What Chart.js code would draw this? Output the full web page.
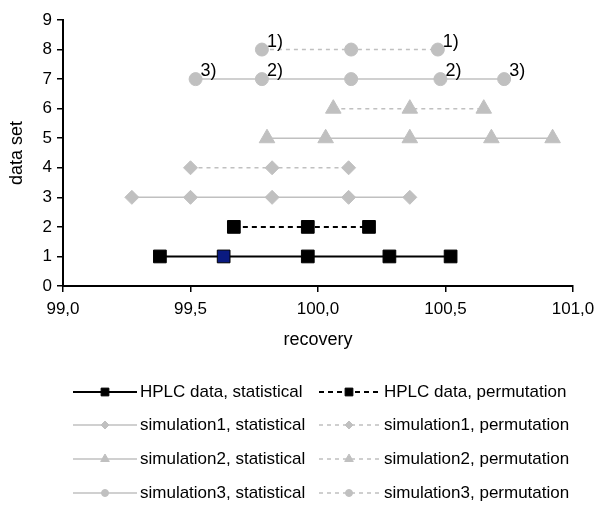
<!DOCTYPE html>
<html>
<head>
<meta charset="utf-8">
<script src="https://cdn.jsdelivr.net/npm/chart.js@4/dist/chart.umd.min.js"></script>
<style>
  body { margin: 0; background: #fff; }
  canvas { display: block; }
</style>
</head>
<body>
<canvas id="chart" width="597" height="506"></canvas>
<script>
// recovery values per data set
const hplcStat = [99.38, 99.63, 99.96, 100.28, 100.52];
const hplcPerm = [99.67, 99.96, 100.20];
const sim1Stat = [99.27, 99.50, 99.82, 100.12, 100.36];
const sim1Perm = [99.50, 99.82, 100.12];
const sim2Stat = [99.80, 100.03, 100.36, 100.68, 100.92];
const sim2Perm = [100.06, 100.36, 100.65];
const sim3Stat = [99.52, 99.78, 100.13, 100.48, 100.73];
const sim3Perm = [99.78, 100.13, 100.47];

// data set number (y) of each series
const rows = [1, 2, 3, 4, 5, 6, 7, 8];
const seriesNames = [
    'HPLC data, statistical', 'HPLC data, permutation',
    'simulation1, statistical', 'simulation1, permutation',
    'simulation2, statistical', 'simulation2, permutation',
    'simulation3, statistical', 'simulation3, permutation'
];
// point labels of the simulation3 rows
const sim3StatLabels = ['3)', '2)', '', '2)', '3)'];
const sim3PermLabels = ['1)', '', '1)'];

const xTicks = [99.0, 99.5, 100.0, 100.5, 101.0];

const GRAY = '#c0c0c0';
const FONT = "'Liberation Sans', Arial, sans-serif";

function pts(xs, y) {
    return xs.map(x => ({ x: x, y: y }));
}

function series(i, xs, opts) {
    return Object.assign({
        label: seriesNames[i],
        data: pts(xs, rows[i]),
        showLine: true,
        tension: 0,
        borderWidth: 1.5,
        pointBorderWidth: 1
    }, opts);
}

const hplcColors = hplcStat.map((_, i) => i === 1 ? '#0a1a80' : '#000');

const datasets = [
    series(0, hplcStat, { borderColor: '#000', borderWidth: 2, pointStyle: 'rect', pointRadius: 9,
        pointBackgroundColor: hplcColors, pointBorderColor: '#000', legendRadius: 5.5 }),
    series(1, hplcPerm, { borderColor: '#000', borderWidth: 2, borderDash: [5, 4], pointStyle: 'rect', pointRadius: 9,
        pointBackgroundColor: '#000', pointBorderColor: '#000', legendRadius: 5.5 }),
    series(2, sim1Stat, { borderColor: GRAY, pointStyle: 'rectRot', pointRadius: 7,
        pointBackgroundColor: GRAY, pointBorderColor: GRAY, legendRadius: 4 }),
    series(3, sim1Perm, { borderColor: GRAY, borderDash: [4, 4], pointStyle: 'rectRot', pointRadius: 7,
        pointBackgroundColor: GRAY, pointBorderColor: GRAY, legendRadius: 4 }),
    series(4, sim2Stat, { borderColor: GRAY, pointStyle: 'triangle', pointRadius: 9,
        pointBackgroundColor: GRAY, pointBorderColor: GRAY, legendRadius: 5 }),
    series(5, sim2Perm, { borderColor: GRAY, borderDash: [4, 4], pointStyle: 'triangle', pointRadius: 9,
        pointBackgroundColor: GRAY, pointBorderColor: GRAY, legendRadius: 5 }),
    series(6, sim3Stat, { borderColor: GRAY, pointStyle: 'circle', pointRadius: 6.5,
        pointBackgroundColor: GRAY, pointBorderColor: GRAY, legendRadius: 3.5, pointLabels: sim3StatLabels }),
    series(7, sim3Perm, { borderColor: GRAY, borderDash: [4, 4], pointStyle: 'circle', pointRadius: 6.5,
        pointBackgroundColor: GRAY, pointBorderColor: GRAY, legendRadius: 3.5, pointLabels: sim3PermLabels })
];

// "1)", "2)", "3)" next to points
const pointLabelPlugin = {
    id: 'pointLabels',
    afterDatasetsDraw(chart) {
        const ctx = chart.ctx;
        ctx.save();
        ctx.font = '18px ' + FONT;
        ctx.fillStyle = '#000';
        ctx.textAlign = 'left';
        ctx.textBaseline = 'bottom';
        chart.data.datasets.forEach((ds, di) => {
            if (!ds.pointLabels) return;
            chart.getDatasetMeta(di).data.forEach((el, i) => {
                const t = ds.pointLabels[i];
                if (t) ctx.fillText(t, el.x + 5, el.y + 1);
            });
        });
        ctx.restore();
    }
};

// two-column legend below the axes
const legendPlugin = {
    id: 'twoColLegend',
    afterDraw(chart) {
        const ctx = chart.ctx;
        const rowY = [392, 425, 459, 493];
        const cols = [
            { x0: 73, x1: 137, mx: 105, tx: 140 },
            { x0: 319, x1: 380, mx: 349, tx: 384 }
        ];
        ctx.save();
        chart.data.datasets.forEach((ds, i) => {
            const c = cols[i % 2];
            const y = rowY[Math.floor(i / 2)];
            ctx.strokeStyle = ds.borderColor;
            ctx.lineWidth = ds.borderWidth;
            ctx.setLineDash(ds.borderDash || []);
            ctx.beginPath();
            ctx.moveTo(c.x0, y);
            ctx.lineTo(c.x1, y);
            ctx.stroke();
            ctx.setLineDash([]);
            ctx.fillStyle = ds.borderColor;
            ctx.strokeStyle = ds.borderColor;
            ctx.lineWidth = 1;
            Chart.helpers.drawPoint(ctx, { pointStyle: ds.pointStyle, radius: ds.legendRadius, rotation: 0, borderWidth: 1 }, c.mx, y);
            ctx.fillStyle = '#000';
            ctx.font = '17px ' + FONT;
            ctx.textAlign = 'left';
            ctx.textBaseline = 'middle';
            ctx.fillText(ds.label, c.tx, y);
        });
        ctx.restore();
    }
};

new Chart(document.getElementById('chart'), {
    type: 'scatter',
    data: { datasets: datasets },
    options: {
        responsive: false,
        animation: false,
        layout: { padding: { top: 20, right: 24, bottom: 150, left: 0 } },
        plugins: { legend: { display: false }, tooltip: { enabled: false } },
        scales: {
            x: {
                type: 'linear',
                min: 99, max: 101,
                afterFit(scale) { scale.height = 70; scale.paddingRight = 0; },
                afterBuildTicks(scale) { scale.ticks = xTicks.map(v => ({ value: v })); },
                ticks: {
                    color: '#000',
                    font: { family: FONT, size: 17 },
                    padding: 7,
                    maxRotation: 0,
                    callback: v => v.toFixed(1).replace('.', ',')
                },
                grid: { drawOnChartArea: false, drawTicks: true, tickLength: 6, color: '#000', lineWidth: 1.5 },
                border: { color: '#000', width: 2 },
                title: { display: true, text: 'recovery', color: '#000', font: { family: FONT, size: 18 }, padding: { top: 4, bottom: 5 } }
            },
            y: {
                min: 0, max: 9,
                afterFit(scale) { scale.width = 63; },
                ticks: { stepSize: 1, color: '#000', font: { family: FONT, size: 17 }, padding: 5 },
                grid: { drawOnChartArea: false, drawTicks: true, tickLength: 6, color: '#000', lineWidth: 1.5 },
                border: { color: '#000', width: 2 },
                title: { display: true, text: 'data set', color: '#000', font: { family: FONT, size: 18 }, padding: { top: 6, bottom: 0 } }
            }
        }
    },
    plugins: [pointLabelPlugin, legendPlugin]
});
</script>
</body>
</html>
